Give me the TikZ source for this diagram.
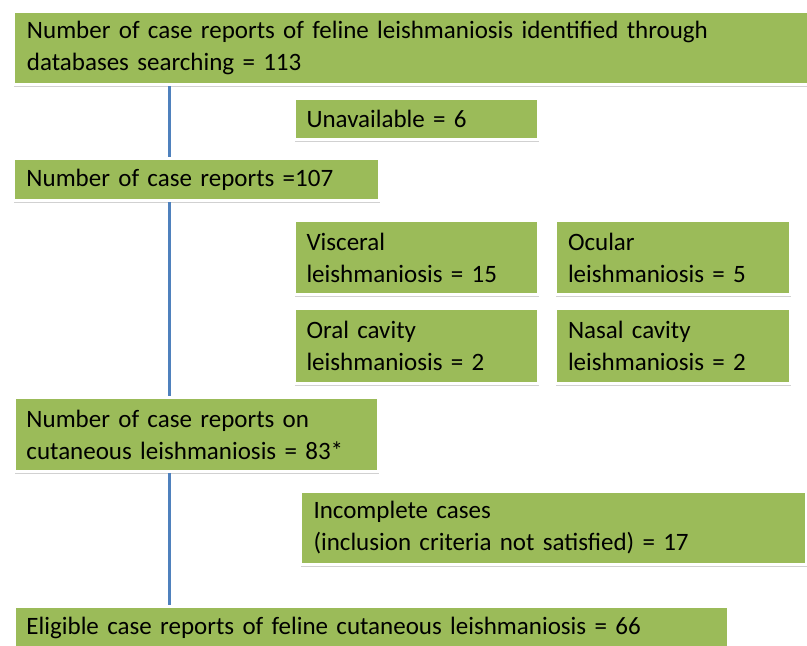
\documentclass[tikz,border=0pt]{standalone}
\usepackage{fontspec}
\setmainfont{Carlito}
\usetikzlibrary{shadows}
\definecolor{boxgreen}{HTML}{9BBB59}
\definecolor{linkblue}{HTML}{4F81BD}
\tikzset{
  box/.style={draw=white, line width=3pt, fill=boxgreen, anchor=north west,
    outer sep=0pt, inner xsep=11pt, inner ysep=0pt, align=left,
    font=\fontsize{25}{32}\selectfont, text=black,
    drop shadow={shadow xshift=0.8pt, shadow yshift=-2pt, fill=black, opacity=0.18}},
  conn/.style={draw=linkblue, line width=3pt}
}
\begin{document}
\begin{tikzpicture}[x=1pt,y=1pt]
\clip (0,0) rectangle (807,-646);
\fill[white] (0,0) rectangle (807,-646);
\coordinate (cx) at (169,0);
% connectors drawn first, boxes cover their ends
\coordinate (l1a) at (169,-86);
\coordinate (l1b) at (169,-158);
\coordinate (l2a) at (169,-200);
\coordinate (l2b) at (169,-397);
\coordinate (l3a) at (169,-472);
\coordinate (l3b) at (169,-606);
% boxes: path at green edge expanded by 1.5
\node[box, minimum width=797pt, minimum height=73pt, text width=770pt] (b1) at (13.5,-11.5)
  {Number of case reports of feline leishmaniosis identified through\\databases searching = 113};
\node[box, minimum width=244pt, minimum height=41pt, text width=220pt] (b2) at (294.5,-98.5)
  {Unavailable = 6};
\node[box, minimum width=366pt, minimum height=42pt, text width=340pt] (b3) at (13.5,-158.5)
  {Number of case reports =107};
\node[box, minimum width=244pt, minimum height=74pt, text width=220pt] (vis) at (294.5,-220.5)
  {Visceral\\leishmaniosis = 15};
\node[box, minimum width=235pt, minimum height=74pt, text width=210pt] (ocu) at (555.5,-220.5)
  {Ocular\\leishmaniosis = 5};
\node[box, minimum width=244pt, minimum height=75pt, text width=220pt] (ora) at (294.5,-308.5)
  {Oral cavity\\leishmaniosis = 2};
\node[box, minimum width=235pt, minimum height=75pt, text width=210pt] (nas) at (555.5,-308.5)
  {Nasal cavity\\leishmaniosis = 2};
\node[box, minimum width=364pt, minimum height=74pt, text width=340pt] (b4) at (14.5,-397.5)
  {Number of case reports on\\cutaneous leishmaniosis = 83*};
\node[box, minimum width=506pt, minimum height=73pt, text width=480pt] (inc) at (300.5,-491.5)
  {Incomplete cases\\(inclusion criteria not satisfied) = 17};
\node[box, minimum width=714pt, minimum height=42pt, text width=690pt] (b5) at (14.5,-606.5)
  {Eligible case reports of feline cutaneous leishmaniosis = 66};
\draw[conn] ([yshift=-1.5pt]b1.south -| cx) -- ([yshift=1.5pt]b3.north -| cx);
\draw[conn] ([yshift=-1.5pt]b3.south -| cx) -- ([yshift=1.5pt]b4.north -| cx);
\draw[conn] ([yshift=-1.5pt]b4.south -| cx) -- ([yshift=1.5pt]b5.north -| cx);
\end{tikzpicture}
\end{document}
